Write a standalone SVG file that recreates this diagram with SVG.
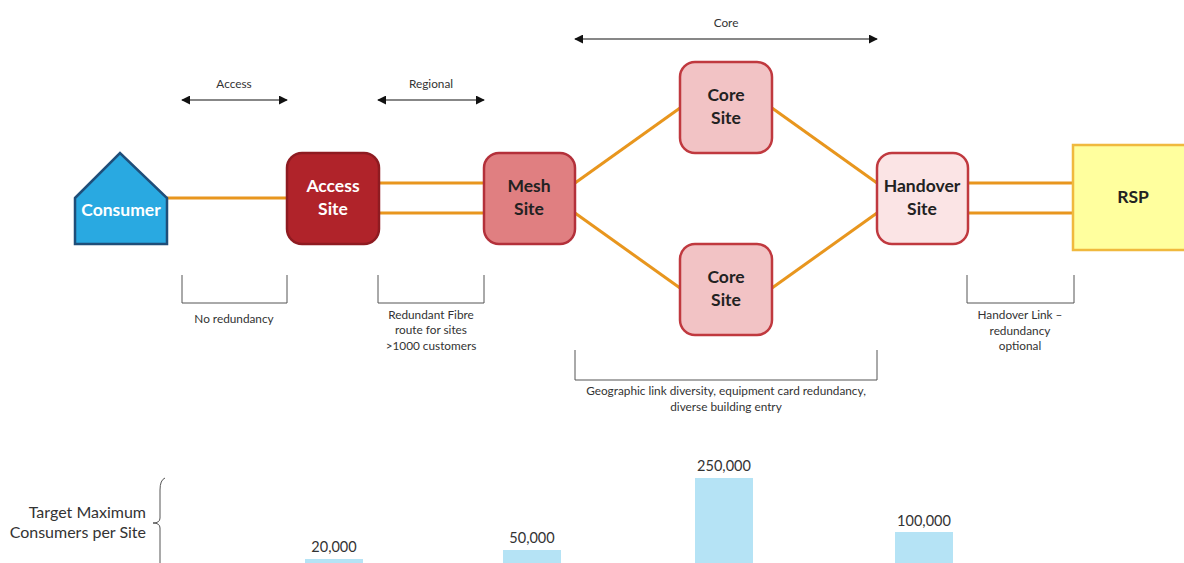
<svg xmlns="http://www.w3.org/2000/svg" width="1184" height="563" viewBox="0 0 1184 563">
<defs>
<marker id="ah" viewBox="0 0 10 10" refX="9" refY="5" markerWidth="9" markerHeight="9" markerUnits="userSpaceOnUse" orient="auto-start-reverse">
<path d="M0,0 L10,5 L0,10 z" fill="#111"/>
</marker>
<style>
.node{stroke-width:2.5}
.lbl{font-family:Lato,"Open Sans",sans-serif;font-weight:bold;font-size:17.5px;text-anchor:middle}
.sm{font-family:Lato,"Open Sans",sans-serif;font-size:11.8px;fill:#333;text-anchor:middle}
.num{font-family:Lato,"Open Sans",sans-serif;font-size:14.5px;fill:#333;text-anchor:middle}
.side{font-family:Lato,"Open Sans",sans-serif;font-size:16px;fill:#333;text-anchor:end}
.link{stroke:#E8961E;stroke-width:3;fill:none}
.span{stroke:#111;stroke-width:1.2;fill:none}
.brk{stroke:#555;stroke-width:1;fill:none}
.bar{fill:#B5E3F5}
</style>
</defs>
<rect width="1184" height="563" fill="#fff"/>
<g id="connectors">
<line class="link" x1="167" y1="198" x2="287" y2="198"/>
<line class="link" x1="379" y1="183" x2="484" y2="183"/>
<line class="link" x1="379" y1="213" x2="484" y2="213"/>
<line class="link" x1="575" y1="183" x2="680" y2="108"/>
<line class="link" x1="575" y1="213" x2="680" y2="288"/>
<line class="link" x1="772" y1="108" x2="877" y2="183"/>
<line class="link" x1="772" y1="288" x2="877" y2="213"/>
<line class="link" x1="968" y1="183" x2="1073" y2="183"/>
<line class="link" x1="968" y1="213" x2="1073" y2="213"/>
</g>
<g id="consumer">
<path class="node" d="M75,198 L120,153 L167,198 L167,244 L75,244 Z" fill="#29A9E1" stroke="#1F4E79"/>
<text class="lbl" x="121" y="216" fill="#fff">Consumer</text>
</g>
<g id="access-site">
<rect class="node" x="287" y="153" width="92" height="91" rx="15" fill="#B0232A" stroke="#8E1B21"/>
<text class="lbl" x="333" y="192" fill="#fff">Access</text>
<text class="lbl" x="333" y="215" fill="#fff">Site</text>
</g>
<g id="mesh-site">
<rect class="node" x="484" y="153" width="91" height="91" rx="15" fill="#E07F81" stroke="#B3303A"/>
<text class="lbl" x="529" y="192" fill="#222">Mesh</text>
<text class="lbl" x="529" y="215" fill="#222">Site</text>
</g>
<g id="core-site-top">
<rect class="node" x="680" y="62" width="92" height="91" rx="15" fill="#F2C3C5" stroke="#C0393F"/>
<text class="lbl" x="726" y="101" fill="#222">Core</text>
<text class="lbl" x="726" y="124" fill="#222">Site</text>
</g>
<g id="core-site-bottom">
<rect class="node" x="680" y="244" width="92" height="91" rx="15" fill="#F2C3C5" stroke="#C0393F"/>
<text class="lbl" x="726" y="283" fill="#222">Core</text>
<text class="lbl" x="726" y="306" fill="#222">Site</text>
</g>
<g id="handover-site">
<rect class="node" x="877" y="153" width="91" height="91" rx="15" fill="#FBE4E5" stroke="#C0393F"/>
<text class="lbl" x="922" y="192" fill="#222">Handover</text>
<text class="lbl" x="922" y="215" fill="#222">Site</text>
</g>
<g id="rsp">
<rect class="node" x="1073" y="145" width="115" height="105" fill="#FFFF9E" stroke="#F0B93E" stroke-width="3"/>
<text class="lbl" x="1133" y="203" fill="#222">RSP</text>
</g>
<g id="spans">
<line class="span" x1="182" y1="100" x2="287" y2="100" marker-start="url(#ah)" marker-end="url(#ah)"/>
<text class="sm" x="234" y="88">Access</text>
<line class="span" x1="378" y1="100" x2="484" y2="100" marker-start="url(#ah)" marker-end="url(#ah)"/>
<text class="sm" x="431" y="88">Regional</text>
<line class="span" x1="575" y1="39" x2="877" y2="39" marker-start="url(#ah)" marker-end="url(#ah)"/>
<text class="sm" x="726" y="27">Core</text>
</g>
<g id="brackets">
<path class="brk" d="M182,275 V303 H287 V275"/>
<text class="sm" x="234" y="323">No redundancy</text>
<path class="brk" d="M378,275 V303 H484 V275"/>
<text class="sm" x="431" y="319">Redundant Fibre</text>
<text class="sm" x="431" y="334">route for sites</text>
<text class="sm" x="431" y="350">&gt;1000 customers</text>
<path class="brk" d="M575,350 V380 H877 V350"/>
<text class="sm" x="726" y="395">Geographic link diversity, equipment card redundancy,</text>
<text class="sm" x="726" y="411">diverse building entry</text>
<path class="brk" d="M967,275 V303 H1074 V275"/>
<text class="sm" x="1020" y="319">Handover Link –</text>
<text class="sm" x="1020" y="335">redundancy</text>
<text class="sm" x="1020" y="350">optional</text>
</g>
<g id="chart">
<text class="side" x="146" y="518">Target Maximum</text>
<text class="side" x="146" y="538">Consumers per Site</text>
<path class="brk" d="M165,478 Q160,480 160,490 V518 Q160,523 153,523 Q160,523 160,528 V563"/>
<rect class="bar" x="305" y="559" width="58" height="10"/>
<text class="num" x="334" y="552">20,000</text>
<rect class="bar" x="503" y="550" width="58" height="20"/>
<text class="num" x="532" y="543">50,000</text>
<rect class="bar" x="695" y="478" width="58" height="90"/>
<text class="num" x="724" y="471">250,000</text>
<rect class="bar" x="895" y="532" width="58" height="40"/>
<text class="num" x="924" y="526">100,000</text>
</g>
</svg>
